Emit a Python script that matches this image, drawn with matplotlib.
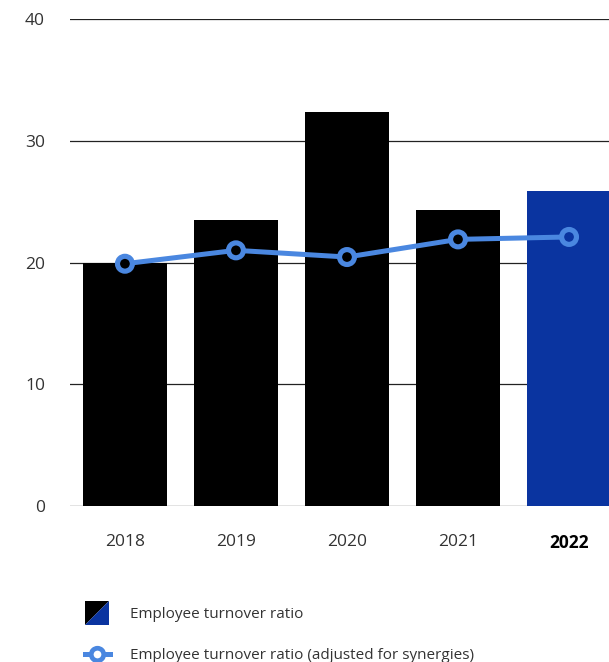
import matplotlib
matplotlib.use("Agg")
import matplotlib.pyplot as plt
from matplotlib.lines import Line2D
from matplotlib.patches import Polygon
from matplotlib.legend_handler import HandlerBase

plt.rcParams['font.family'] = ['Open Sans', 'DejaVu Sans']

years = ['2018', '2019', '2020', '2021', '2022']
turnover = [20.0, 23.5, 32.4, 24.3, 25.9]
adjusted = [19.9, 21.0, 20.45, 21.9, 22.1]
yticks = [0, 10, 20, 30, 40]

BLACK = '#000000'
BLUE = '#0a34a0'
LINE = '#4a87e0'
TEXT = '#333333'


class SplitSquareHandler(HandlerBase):
    def create_artists(self, legend, orig_handle, xdescent, ydescent,
                       width, height, fontsize, trans):
        s = 17.0
        x0 = -xdescent + (width - s) / 2
        y0 = -ydescent + (height - s) / 2
        upper = Polygon([[x0, y0], [x0, y0 + s], [x0 + s, y0 + s]],
                        closed=True, facecolor=BLACK, edgecolor='none', transform=trans)
        lower = Polygon([[x0, y0], [x0 + s, y0], [x0 + s, y0 + s]],
                        closed=True, facecolor=BLUE, edgecolor='none', transform=trans)
        return [upper, lower]


fig = plt.figure(figsize=(6.09, 6.62), dpi=100)
ax = fig.add_axes([0.1149, 0.2356, 0.8851, 0.7357])

x = list(range(len(years)))
colors = [BLACK] * (len(years) - 1) + [BLUE]
ax.bar(x, turnover, width=0.75, color=colors, zorder=2)

ax.plot(x, adjusted, color=LINE, linewidth=3.6, zorder=3, solid_capstyle='butt')
ax.scatter(x, adjusted, s=115, facecolors=colors, edgecolors=LINE,
           linewidths=3.7, zorder=4)

ax.set_ylim(0, 40)
ax.set_xlim(-0.495, 4.36)
ax.set_yticks(yticks)
ax.yaxis.grid(True, color='#222222', linewidth=0.9, zorder=0)
ax.set_axisbelow(True)
for sp in ax.spines.values():
    sp.set_visible(False)
ax.tick_params(axis='both', length=0, labelsize=12.5, labelcolor=TEXT)
ax.tick_params(axis='y', pad=18)
ax.tick_params(axis='x', pad=20)
ax.set_xticks(x)
ax.set_xticklabels(years)
last = ax.get_xticklabels()[-1]
last.set_fontweight('bold')
last.set_color('black')

handles = [
    Polygon([[0, 0]], closed=True),
    Line2D([], [], color=LINE, linewidth=3.6, marker='o', markersize=9,
           markerfacecolor='white', markeredgecolor=LINE, markeredgewidth=3.4),
]
labels = ['Employee turnover ratio', 'Employee turnover ratio (adjusted for synergies)']
fig.legend(handles, labels, loc='upper left', bbox_to_anchor=(0.129, 0.092),
           frameon=False, fontsize=11, labelcolor=TEXT, handlelength=1.65,
           handletextpad=1.3, labelspacing=1.7, borderaxespad=0,
           handler_map={Polygon: SplitSquareHandler()})

fig.savefig('out.png', dpi=100)
